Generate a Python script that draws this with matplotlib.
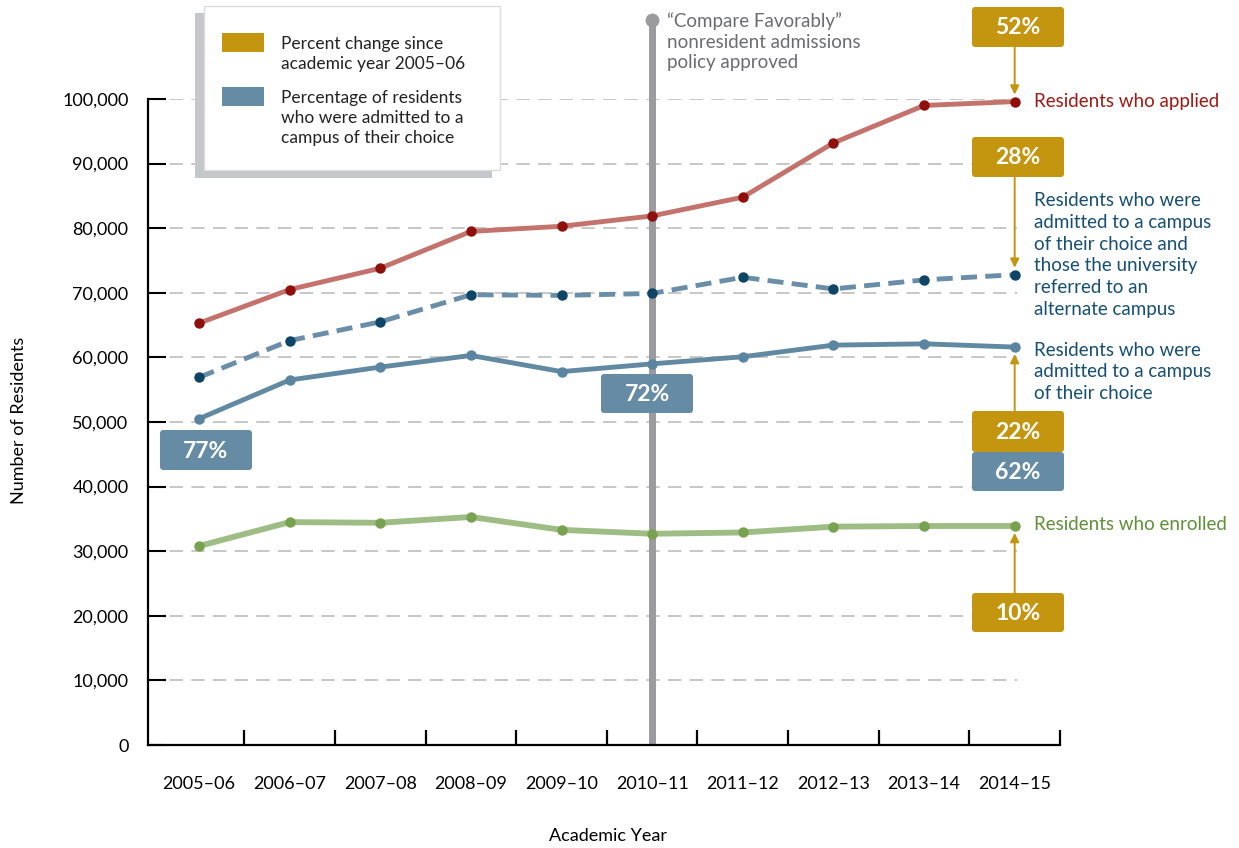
import matplotlib
matplotlib.use("Agg")
import matplotlib.pyplot as plt
from matplotlib.patches import FancyBboxPatch, Rectangle
from matplotlib.ticker import FuncFormatter

plt.rcParams['font.family'] = ['Lato', 'DejaVu Sans']

# ---------------- data ----------------
years = ['2005–06', '2006–07', '2007–08', '2008–09', '2009–10',
         '2010–11', '2011–12', '2012–13', '2013–14', '2014–15']
applied = [65300, 70500, 73800, 79500, 80300, 81900, 84800, 93200, 99000, 99600]
admitted_or_referred = [56900, 62600, 65500, 69700, 69600, 69900, 72400, 70600, 72000, 72800]
admitted = [50500, 56500, 58500, 60300, 57800, 59000, 60100, 61900, 62100, 61600]
enrolled = [30800, 34500, 34400, 35300, 33300, 32700, 32900, 33800, 33900, 33900]

change_labels = ['52%', '28%', '22%', '10%']
admit_rate_labels = ['77%', '72%', '62%']
y_ticks = list(range(0, 100001, 10000))
policy_year_index = 5
policy_line_top = 112200

# ---------------- colours ----------------
RED_LINE, RED_MK, RED_TXT = '#c4736c', '#8e0f0b', '#9e1a14'
DASH_LINE, DASH_MK = '#6b8ea8', '#0e4466'
SOLID_LINE, SOLID_MK = '#6289a2', '#5a84a0'
BLUE_TXT = '#174f72'
GREEN_LINE, GREEN_MK, GREEN_TXT = '#9dbd84', '#78a24f', '#5f8f37'
GOLD = '#c4950f'
BLUEBOX = '#668ca5'
VGRAY = '#9b9b9f'
GRID = '#bdbdbd'

W, H = 1239, 848
fig = plt.figure(figsize=(W / 100, H / 100), dpi=100)
ax = fig.add_axes([148 / W, 1 - 745 / H, (1060 - 148) / W, (745 - 99) / H])

x = list(range(len(years)))
ax.set_xlim(-0.5625, 9.5)
ax.set_ylim(0, 100000)

# gridlines
ax.hlines(y_ticks[1:], -0.5625, 9.03, colors=GRID, linestyles=(0, (8, 5)),
          lw=1.2, zorder=1)

# policy vertical line
ax.plot([policy_year_index, policy_year_index], [0, policy_line_top], color=VGRAY,
        lw=5, solid_capstyle='butt', zorder=1.5, clip_on=False)
ax.plot([policy_year_index], [policy_line_top], 'o', color=VGRAY, ms=9,
        zorder=1.5, clip_on=False)

# series
ax.plot(x, applied, color=RED_LINE, lw=3.5, zorder=3, clip_on=False,
        marker='o', ms=6.5, mfc=RED_MK, mec=RED_MK)
ax.plot(x, admitted_or_referred, color=DASH_LINE, lw=3.5, ls=(0, (3.3, 1.7)),
        zorder=3, marker='o', ms=6.5, mfc=DASH_MK, mec=DASH_MK)
ax.plot(x, admitted, color=SOLID_LINE, lw=3.5, zorder=3,
        marker='o', ms=6.5, mfc=SOLID_MK, mec=SOLID_MK)
ax.plot(x, enrolled, color=GREEN_LINE, lw=4.2, zorder=3,
        marker='o', ms=6.5, mfc=GREEN_MK, mec=GREEN_MK)

# axes styling
for s in ['top', 'right']:
    ax.spines[s].set_visible(False)
for s in ['left', 'bottom']:
    ax.spines[s].set_linewidth(1.6)
    ax.spines[s].set_color('black')

ax.set_yticks(y_ticks)
ax.yaxis.set_major_formatter(FuncFormatter(lambda v, p: f'{int(v):,}'))
ax.tick_params(axis='y', direction='in', length=13, width=1.5, pad=14,
               labelsize=13, colors='black')
ax.set_xticks([i + 0.5 for i in x])
ax.set_xticklabels([])
ax.set_xticks(x, minor=True)
ax.set_xticklabels(years, minor=True)
ax.tick_params(axis='x', which='major', direction='in', length=11, width=1.6)
ax.tick_params(axis='x', which='minor', length=0, pad=22, labelsize=13)

fig.text(19 / W, 1 - 420 / H, 'Number of Residents', rotation=90,
         ha='center', va='center', fontsize=13)
fig.text(608 / W, 1 - 836 / H, 'Academic Year', ha='center', va='center',
         fontsize=13)


# ---------------- helpers in pixel space ----------------
def fx(px):
    return px / W


def fy(py):
    return 1 - py / H


def rect(x0, y0, x1, y1, color, ec='none', lw=0, z=5, rounded=True):
    if rounded:
        p = FancyBboxPatch((fx(x0), fy(y1)), (x1 - x0) / W, (y1 - y0) / H,
                           boxstyle='round,pad=0,rounding_size=0.0025',
                           mutation_aspect=W / H,
                           transform=fig.transFigure, fc=color, ec=ec, lw=lw,
                           zorder=z)
    else:
        p = Rectangle((fx(x0), fy(y1)), (x1 - x0) / W, (y1 - y0) / H,
                      transform=fig.transFigure, fc=color, ec=ec, lw=lw, zorder=z)
    fig.add_artist(p)


def box(x0, y0, x1, y1, color, text):
    rect(x0, y0, x1, y1, color)
    fig.text(fx((x0 + x1) / 2), fy((y0 + y1) / 2 + 1), text, ha='center',
             va='center', color='white', fontsize=16.5, fontweight='bold',
             zorder=6)


# legend
rect(195, 13, 492, 178, '#c5c8ca', rounded=False, z=4)
rect(204, 6, 500, 170, 'white', ec='#dcdcdc', lw=1, rounded=False, z=4.5)
rect(222, 33, 264, 52, GOLD, rounded=False, z=5)
rect(222, 87, 264, 106, BLUEBOX, rounded=False, z=5)
fig.text(fx(281), fy(54), 'Percent change since\nacademic year 2005–06',
         ha='left', va='center', fontsize=12.5, color='#222222', zorder=6,
         linespacing=1.3)
fig.text(fx(281), fy(118),
         'Percentage of residents\nwho were admitted to a\ncampus of their choice',
         ha='left', va='center', fontsize=12.5, color='#222222', zorder=6,
         linespacing=1.3)

# policy note
fig.text(fx(667), fy(42),
         '“Compare Favorably”\nnonresident admissions\npolicy approved',
         ha='left', va='center', fontsize=13.5, color='#6b6c6f',
         linespacing=1.25)

# percentage boxes
box(972, 7, 1064, 47, GOLD, change_labels[0])
box(972, 137, 1064, 177, GOLD, change_labels[1])
box(972, 411, 1064, 452, GOLD, change_labels[2])
box(972, 452, 1064, 491, BLUEBOX, admit_rate_labels[2])
box(972, 593, 1064, 632, GOLD, change_labels[3])
box(160, 430, 252, 470, BLUEBOX, admit_rate_labels[0])
box(601, 374, 693, 413, BLUEBOX, admit_rate_labels[1])

# arrows from boxes to the last points
last = len(years) - 1
arrow_kw = dict(arrowstyle='-|>', color=GOLD, lw=1.4, mutation_scale=13,
                shrinkA=0, shrinkB=5)
for value, start_py in [(applied[last], 47), (admitted_or_referred[last], 177),
                        (admitted[last], 411), (enrolled[last], 593)]:
    ax.annotate('', xy=(last, value), xycoords='data',
                xytext=(last, H - start_py), textcoords=('data', 'figure pixels'),
                arrowprops=arrow_kw, annotation_clip=False, zorder=4)

# series labels
lab_kw = dict(textcoords='figure pixels', ha='left', va='center', fontsize=13.5,
              annotation_clip=False, linespacing=1.34)
ax.annotate('Residents who applied', xy=(last, applied[last]),
            xytext=(1034, H - 102), color=RED_TXT, **lab_kw)
ax.annotate('Residents who were\nadmitted to a campus\nof their choice and\n'
            'those the university\nreferred to an\nalternate campus',
            xy=(last, admitted_or_referred[last]),
            xytext=(1034, H - 255), color=BLUE_TXT, **lab_kw)
ax.annotate('Residents who were\nadmitted to a campus\nof their choice',
            xy=(last, admitted[last]),
            xytext=(1034, H - 372), color=BLUE_TXT, **lab_kw)
ax.annotate('Residents who enrolled', xy=(last, enrolled[last]),
            xytext=(1034, H - 524), color=GREEN_TXT, **lab_kw)

fig.savefig('out.png', dpi=100)
